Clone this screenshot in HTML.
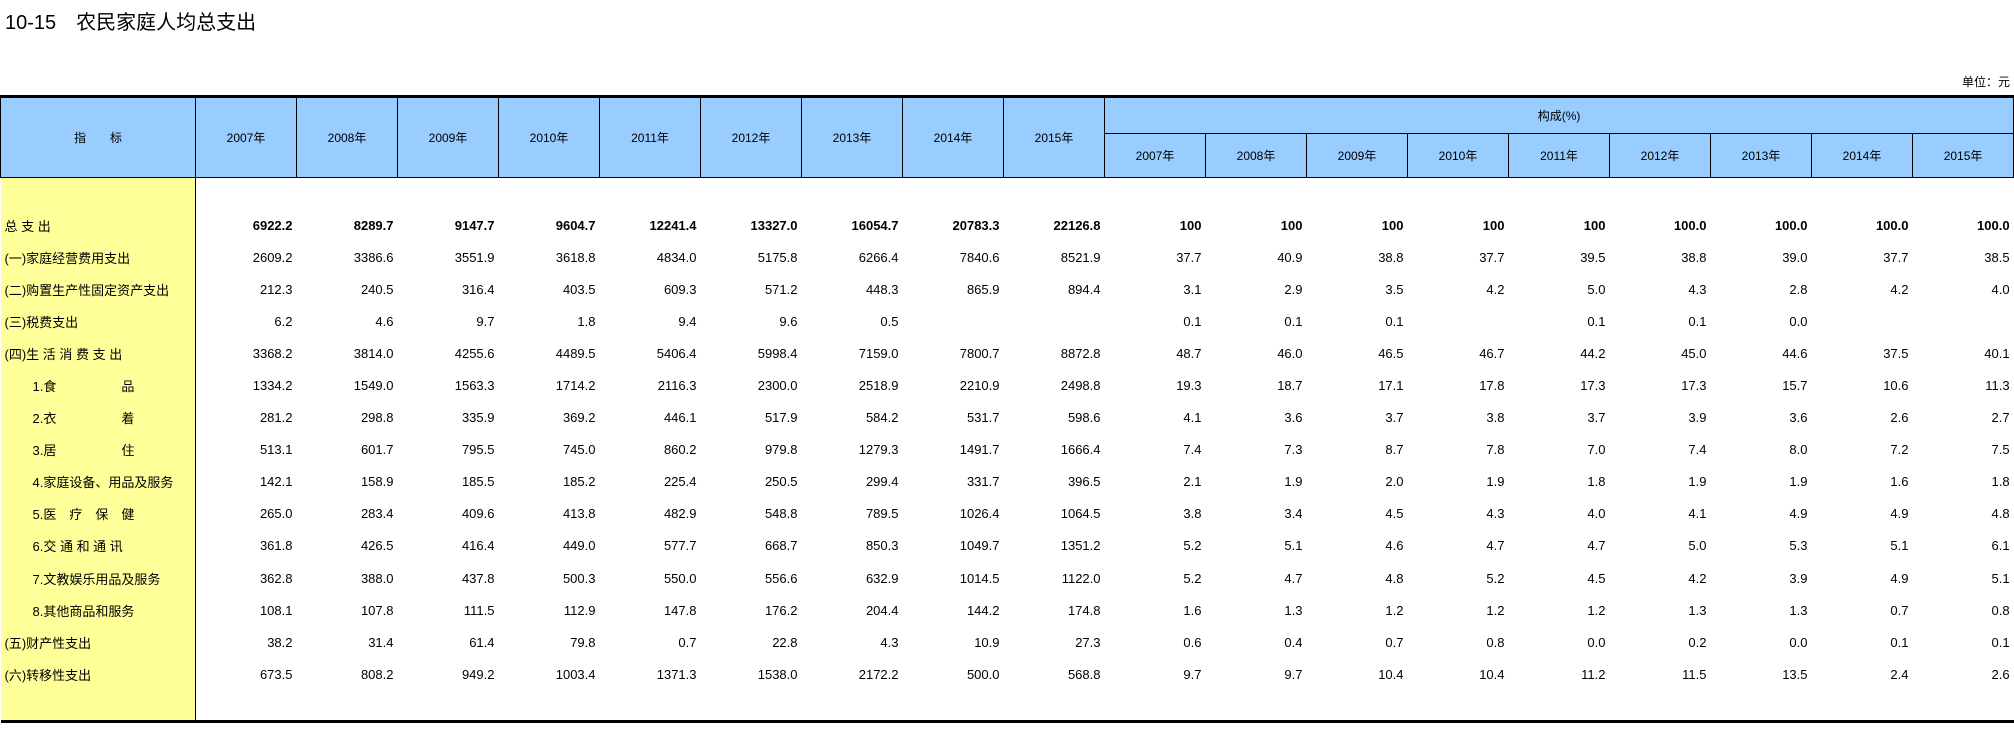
<!DOCTYPE html>
<html><head><meta charset="utf-8">
<style>
html,body{margin:0;padding:0;background:#fff;}
body{width:2014px;height:753px;position:relative;overflow:hidden;font-family:"Liberation Sans","Noto Sans CJK SC",sans-serif;color:#000;}
#title{position:absolute;left:5px;top:6px;font-size:20px;white-space:pre;}
#unit{position:absolute;right:4px;top:73px;font-size:12px;}
table{position:absolute;left:0;top:95px;border-collapse:collapse;table-layout:fixed;width:2014px;font-size:13px;}
td{padding:0;white-space:nowrap;overflow:hidden;}
.h td{background:#99CCFF;text-align:center;border:1px solid #000;font-size:12px;}
.h1 td{border-top:3px solid #000;}
tr.b td{height:32.1px;text-align:right;padding-right:4px;}
tr.b td.l{background:#FFFF99;text-align:left;padding-left:4px;border-right:1px solid #000;}
tr.sp td{height:31px;}
tr.sp td.l,tr.end td.l{background:#FFFF99;border-right:1px solid #000;}
tr.end td{height:30px;border-bottom:3px solid #000;}
.bold td{font-weight:bold;}
.bold td.l{font-weight:normal;}
.i{padding-left:32px !important;}
</style></head><body>
<div id="title">10-15　农民家庭人均总支出</div>
<div id="unit">单位：元</div>
<table>
<colgroup><col style="width:195px"><col span="18" style="width:101px"></colgroup>
<tr class="h h1" style="height:37px"><td rowspan="2">指　　标</td><td rowspan="2">2007年</td><td rowspan="2">2008年</td><td rowspan="2">2009年</td><td rowspan="2">2010年</td><td rowspan="2">2011年</td><td rowspan="2">2012年</td><td rowspan="2">2013年</td><td rowspan="2">2014年</td><td rowspan="2">2015年</td><td colspan="9">构成(%)</td></tr>
<tr class="h" style="height:44px"><td>2007年</td><td>2008年</td><td>2009年</td><td>2010年</td><td>2011年</td><td>2012年</td><td>2013年</td><td>2014年</td><td>2015年</td></tr>
<tr class="sp"><td class="l"></td><td colspan="18"></td></tr>
<tr class="b bold"><td class="l">总 支 出</td><td>6922.2</td><td>8289.7</td><td>9147.7</td><td>9604.7</td><td>12241.4</td><td>13327.0</td><td>16054.7</td><td>20783.3</td><td>22126.8</td><td>100</td><td>100</td><td>100</td><td>100</td><td>100</td><td>100.0</td><td>100.0</td><td>100.0</td><td>100.0</td></tr>
<tr class="b"><td class="l">(一)家庭经营费用支出</td><td>2609.2</td><td>3386.6</td><td>3551.9</td><td>3618.8</td><td>4834.0</td><td>5175.8</td><td>6266.4</td><td>7840.6</td><td>8521.9</td><td>37.7</td><td>40.9</td><td>38.8</td><td>37.7</td><td>39.5</td><td>38.8</td><td>39.0</td><td>37.7</td><td>38.5</td></tr>
<tr class="b"><td class="l">(二)购置生产性固定资产支出</td><td>212.3</td><td>240.5</td><td>316.4</td><td>403.5</td><td>609.3</td><td>571.2</td><td>448.3</td><td>865.9</td><td>894.4</td><td>3.1</td><td>2.9</td><td>3.5</td><td>4.2</td><td>5.0</td><td>4.3</td><td>2.8</td><td>4.2</td><td>4.0</td></tr>
<tr class="b"><td class="l">(三)税费支出</td><td>6.2</td><td>4.6</td><td>9.7</td><td>1.8</td><td>9.4</td><td>9.6</td><td>0.5</td><td></td><td></td><td>0.1</td><td>0.1</td><td>0.1</td><td></td><td>0.1</td><td>0.1</td><td>0.0</td><td></td><td></td></tr>
<tr class="b"><td class="l">(四)生 活 消 费 支 出</td><td>3368.2</td><td>3814.0</td><td>4255.6</td><td>4489.5</td><td>5406.4</td><td>5998.4</td><td>7159.0</td><td>7800.7</td><td>8872.8</td><td>48.7</td><td>46.0</td><td>46.5</td><td>46.7</td><td>44.2</td><td>45.0</td><td>44.6</td><td>37.5</td><td>40.1</td></tr>
<tr class="b"><td class="l i">1.食　　　　　品</td><td>1334.2</td><td>1549.0</td><td>1563.3</td><td>1714.2</td><td>2116.3</td><td>2300.0</td><td>2518.9</td><td>2210.9</td><td>2498.8</td><td>19.3</td><td>18.7</td><td>17.1</td><td>17.8</td><td>17.3</td><td>17.3</td><td>15.7</td><td>10.6</td><td>11.3</td></tr>
<tr class="b"><td class="l i">2.衣　　　　　着</td><td>281.2</td><td>298.8</td><td>335.9</td><td>369.2</td><td>446.1</td><td>517.9</td><td>584.2</td><td>531.7</td><td>598.6</td><td>4.1</td><td>3.6</td><td>3.7</td><td>3.8</td><td>3.7</td><td>3.9</td><td>3.6</td><td>2.6</td><td>2.7</td></tr>
<tr class="b"><td class="l i">3.居　　　　　住</td><td>513.1</td><td>601.7</td><td>795.5</td><td>745.0</td><td>860.2</td><td>979.8</td><td>1279.3</td><td>1491.7</td><td>1666.4</td><td>7.4</td><td>7.3</td><td>8.7</td><td>7.8</td><td>7.0</td><td>7.4</td><td>8.0</td><td>7.2</td><td>7.5</td></tr>
<tr class="b"><td class="l i">4.家庭设备、用品及服务</td><td>142.1</td><td>158.9</td><td>185.5</td><td>185.2</td><td>225.4</td><td>250.5</td><td>299.4</td><td>331.7</td><td>396.5</td><td>2.1</td><td>1.9</td><td>2.0</td><td>1.9</td><td>1.8</td><td>1.9</td><td>1.9</td><td>1.6</td><td>1.8</td></tr>
<tr class="b"><td class="l i">5.医　疗　保　健</td><td>265.0</td><td>283.4</td><td>409.6</td><td>413.8</td><td>482.9</td><td>548.8</td><td>789.5</td><td>1026.4</td><td>1064.5</td><td>3.8</td><td>3.4</td><td>4.5</td><td>4.3</td><td>4.0</td><td>4.1</td><td>4.9</td><td>4.9</td><td>4.8</td></tr>
<tr class="b"><td class="l i">6.交 通 和 通 讯</td><td>361.8</td><td>426.5</td><td>416.4</td><td>449.0</td><td>577.7</td><td>668.7</td><td>850.3</td><td>1049.7</td><td>1351.2</td><td>5.2</td><td>5.1</td><td>4.6</td><td>4.7</td><td>4.7</td><td>5.0</td><td>5.3</td><td>5.1</td><td>6.1</td></tr>
<tr class="b"><td class="l i">7.文教娱乐用品及服务</td><td>362.8</td><td>388.0</td><td>437.8</td><td>500.3</td><td>550.0</td><td>556.6</td><td>632.9</td><td>1014.5</td><td>1122.0</td><td>5.2</td><td>4.7</td><td>4.8</td><td>5.2</td><td>4.5</td><td>4.2</td><td>3.9</td><td>4.9</td><td>5.1</td></tr>
<tr class="b"><td class="l i">8.其他商品和服务</td><td>108.1</td><td>107.8</td><td>111.5</td><td>112.9</td><td>147.8</td><td>176.2</td><td>204.4</td><td>144.2</td><td>174.8</td><td>1.6</td><td>1.3</td><td>1.2</td><td>1.2</td><td>1.2</td><td>1.3</td><td>1.3</td><td>0.7</td><td>0.8</td></tr>
<tr class="b"><td class="l">(五)财产性支出</td><td>38.2</td><td>31.4</td><td>61.4</td><td>79.8</td><td>0.7</td><td>22.8</td><td>4.3</td><td>10.9</td><td>27.3</td><td>0.6</td><td>0.4</td><td>0.7</td><td>0.8</td><td>0.0</td><td>0.2</td><td>0.0</td><td>0.1</td><td>0.1</td></tr>
<tr class="b"><td class="l">(六)转移性支出</td><td>673.5</td><td>808.2</td><td>949.2</td><td>1003.4</td><td>1371.3</td><td>1538.0</td><td>2172.2</td><td>500.0</td><td>568.8</td><td>9.7</td><td>9.7</td><td>10.4</td><td>10.4</td><td>11.2</td><td>11.5</td><td>13.5</td><td>2.4</td><td>2.6</td></tr>
<tr class="end"><td class="l"></td><td colspan="18"></td></tr>
</table>
</body></html>
